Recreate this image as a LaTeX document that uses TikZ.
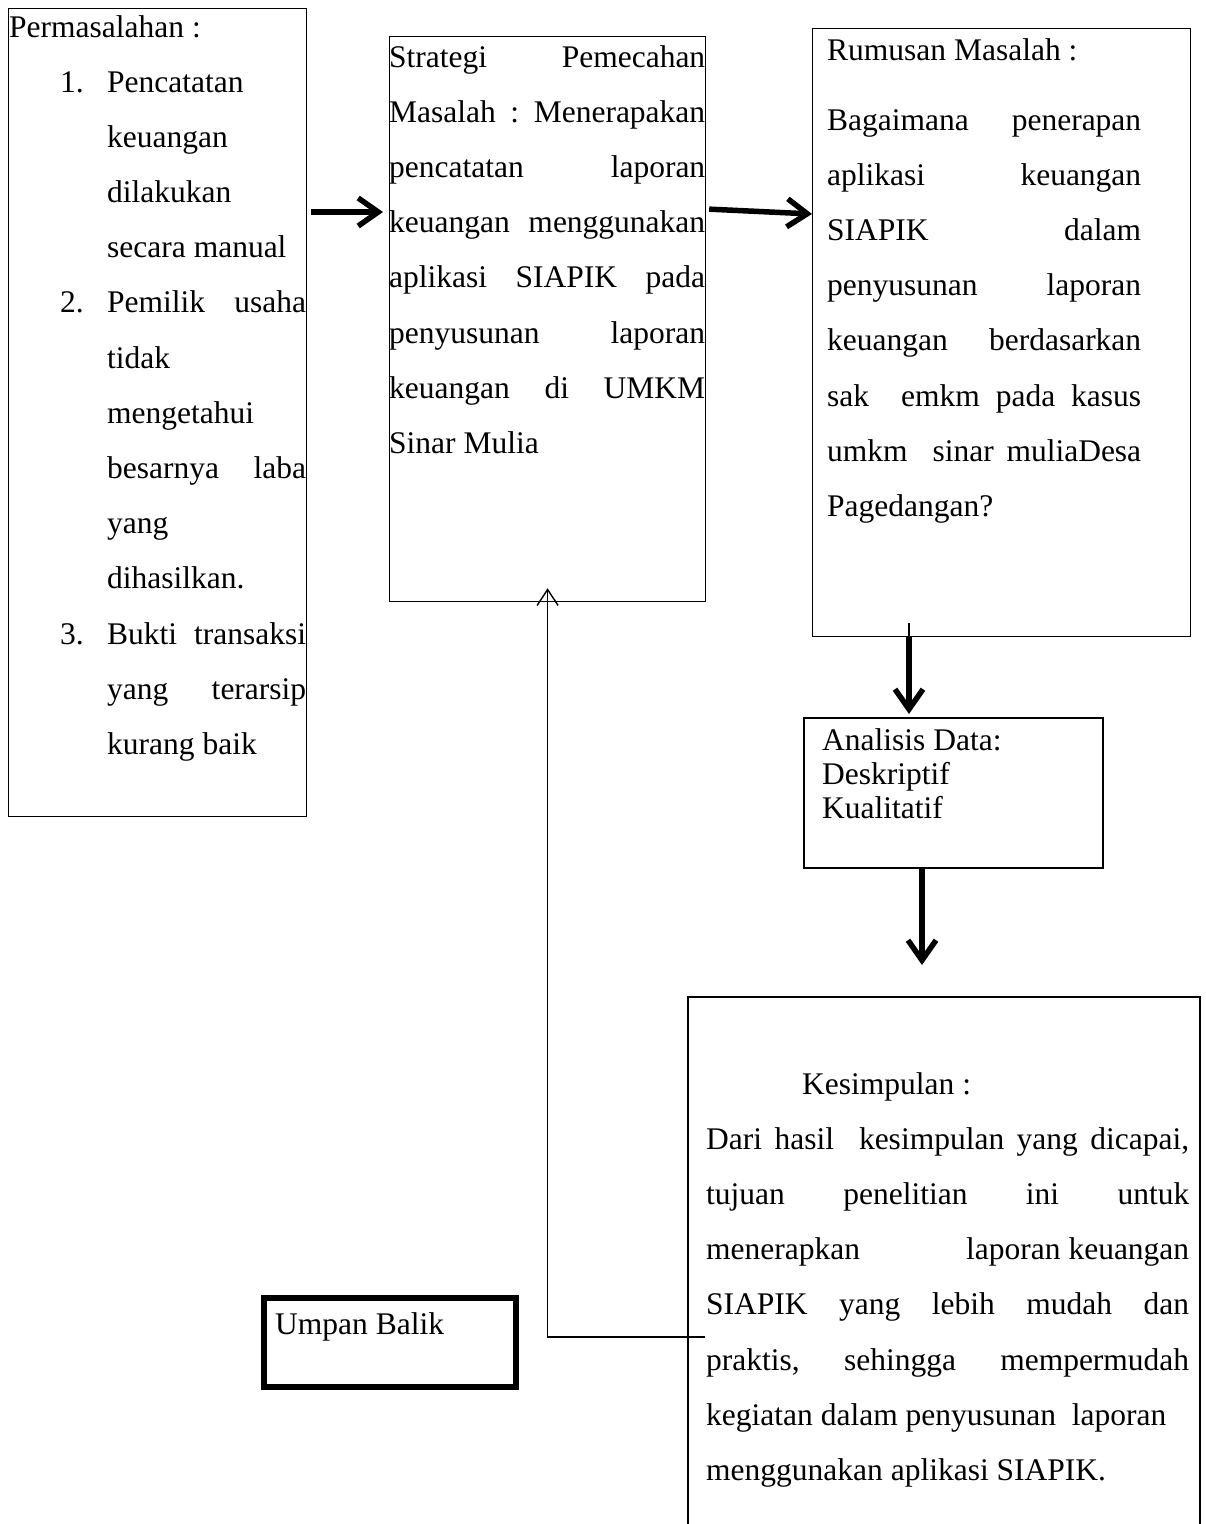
\documentclass[tikz,border=0pt]{standalone}
\usepackage{fontspec}
\setmainfont{Liberation Serif}
\usetikzlibrary{arrows.meta,calc}
\newcommand\JL[1]{\hbox to\hsize{#1}}
\newcommand\LL[1]{\hbox to\hsize{#1\hfil}}
\newcommand\numlab[1]{\llap{\hbox to47pt{#1\hfil}}}
\tikzset{
  thinbox/.style={draw, line width=1.2pt, inner sep=0pt, anchor=north west},
  medbox/.style={draw, line width=2pt, inner sep=0pt, anchor=north west},
  thickbox/.style={draw, line width=5.5pt, inner sep=0pt, anchor=north west},
  txt/.style={inner sep=0pt, anchor=base west, font=\fontsize{31.5}{55.2}\selectfont},
  bigarrow/.style={line width=5.5pt, -{Straight Barb[length=20pt,width=28pt]}},
  fbline/.style={line width=1.4pt, -{Straight Barb[length=16pt,width=21pt]}},
  thinline/.style={line width=1.4pt},
}
\begin{document}
\begin{tikzpicture}[x=1pt,y=-1pt]
\useasboundingbox (0,0) rectangle (1206,1524);
\fill[white] (0,0) rectangle (1206,1524);

% boxes
\node[thinbox, minimum width=298pt, minimum height=808pt] (perm) at (8,8) {};
\node[thinbox, minimum width=316pt, minimum height=565pt] (strat) at (389,36) {};
\node[thinbox, minimum width=378pt, minimum height=608pt] (rum) at (812,28) {};
\node[medbox, minimum width=299pt, minimum height=150pt] (ana) at (803,717) {};
\node[thickbox, minimum width=252pt, minimum height=89pt] (umpan) at (261,1295) {};
\node[inner sep=0pt, anchor=north west, minimum width=512pt, minimum height=527pt] (kes) at (688,997) {};
\draw[line width=2pt] (kes.south west) -- (kes.north west) -- (kes.north east) -- (kes.south east);

% texts
\node[txt] (permT) at (9,37) {Permasalahan :};
\node[txt] (permL) at (107,92) {\vtop{\hsize=199pt
  \LL{\numlab{1.}Pencatatan}
  \LL{keuangan}
  \LL{dilakukan}
  \LL{secara manual}
  \JL{\numlab{2.}Pemilik\hfill usaha}
  \LL{tidak}
  \LL{mengetahui}
  \JL{besarnya\hfill laba}
  \LL{yang}
  \LL{dihasilkan.}
  \JL{\numlab{3.}Bukti\hfill transaksi}
  \JL{yang\hfill terarsip}
  \LL{kurang baik}}};

\node[txt] (stratT) at (389,67) {\vtop{\hsize=316pt
  \JL{Strategi\hfill Pemecahan}
  \JL{Masalah\hfill:\hfill Menerapakan}
  \JL{pencatatan\hfill laporan}
  \JL{keuangan\hfill menggunakan}
  \JL{aplikasi\hfill SIAPIK\hfill pada}
  \JL{penyusunan\hfill laporan}
  \JL{keuangan\hfill di\hfill UMKM}
  \LL{Sinar Mulia}}};

\node[txt] (rumT) at (827,60) {Rumusan Masalah :};
\node[txt] (rumB) at (827,130) {\vtop{\hsize=314pt
  \JL{Bagaimana\hfill penerapan}
  \JL{aplikasi\hfill keuangan}
  \JL{SIAPIK\hfill dalam}
  \JL{penyusunan\hfill laporan}
  \JL{keuangan\hfill berdasarkan}
  \JL{sak\hfill\hfill emkm\hfill pada\hfill kasus}
  \JL{umkm\hfill\hfill sinar\hfill muliaDesa}
  \LL{Pagedangan?}}};

\node[txt] (anaT) at (822,750) {\vtop{\baselineskip=34pt
  \hbox{Analisis Data:}
  \hbox{Deskriptif}
  \hbox{Kualitatif}}};

\node[txt] (umpanT) at (275,1334) {Umpan Balik};

\node[txt] (kesT) at (706,1094) {\vtop{\hsize=483pt
  \LL{\hskip96pt Kesimpulan :}
  \JL{Dari\hfill hasil\hfill\hfill kesimpulan\hfill yang\hfill dicapai,}
  \JL{tujuan\hfill penelitian\hfill ini\hfill untuk}
  \JL{menerapkan\hfill laporan keuangan}
  \JL{SIAPIK\hfill yang\hfill lebih\hfill mudah\hfill dan}
  \JL{praktis,\hfill sehingga\hfill mempermudah}
  \LL{kegiatan dalam penyusunan\ \ laporan}
  \LL{menggunakan aplikasi SIAPIK.}}};

% connectors
\coordinate (a1) at (0,212);
\coordinate (a2s) at (0,209);
\coordinate (a2e) at (0,214);
\coordinate (a3) at (909,0);
\coordinate (a4) at (922,0);
\coordinate (fbs) at (705,1337);

\draw[bigarrow, shorten <=4pt, shorten >=6pt] (perm.east |- a1) -- (strat.west |- a1);
\draw[bigarrow, shorten <=3pt] (strat.east |- a2s) -- (rum.west |- a2e);
\draw[thinline] ($(rum.south -| a3)+(0,-14)$) -- (rum.south -| a3);
\draw[bigarrow] (rum.south -| a3) -- ($(ana.north -| a3)+(0,-3)$);
\draw[bigarrow] (ana.south -| a4) -- ($(kes.north -| a4)+(0,-32)$);
\draw[fbline] (fbs) -| ($(strat.south)+(0,-14)$);
\end{tikzpicture}
\end{document}
